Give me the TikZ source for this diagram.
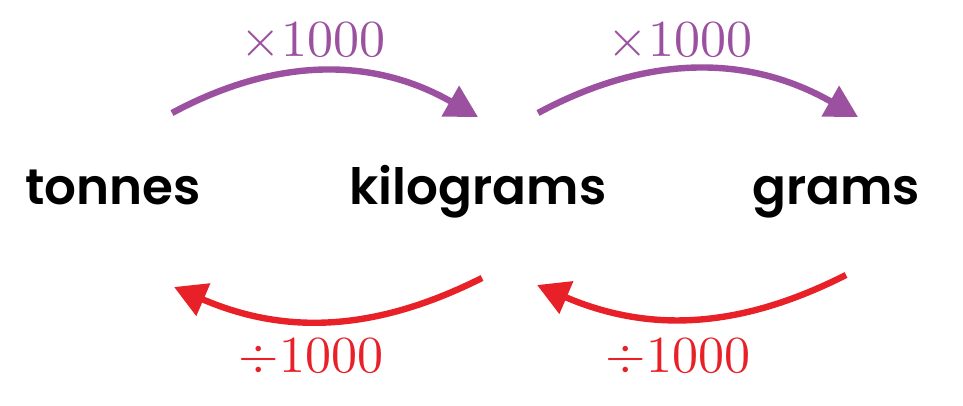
\documentclass[tikz,border=0pt]{standalone}
\usepackage{fontspec}
\usepackage{unicode-math}
\newfontfamily\unitfont{Poppins SemiBold}
\usetikzlibrary{arrows.meta, positioning}
\definecolor{mulpurple}{RGB}{155,80,160}
\definecolor{divred}{RGB}{232,32,40}
\tikzset{
  unit/.style={font=\unitfont\fontsize{25}{28}\selectfont, inner sep=0pt, anchor=base},
  factor/.style={font=\fontsize{26}{30}\selectfont, inner sep=0pt},
  mularrow/.style={line width=3.2pt, mulpurple, -{Triangle[length=16pt, width=17pt]}},
  divarrow/.style={line width=3.2pt, divred, -{Triangle[length=16pt, width=17pt]}}
}

\begin{document}
\begin{tikzpicture}[x=0.5pt, y=-0.5pt]

  \useasboundingbox (0,0) rectangle (963,406);

  \node (tonnes) [unit] at (113,205) {tonnes};
  \node (kilograms) [unit] at (478,205) {kilograms};
  \node (grams) [unit] at (836,205) {grams};

  \coordinate (mulA1) at (172,113);
  \coordinate (mulA2) at (478,117);
  \coordinate (mulB1) at (538,113);
  \coordinate (mulB2) at (858,117);
  \coordinate (divA1) at (482,278);
  \coordinate (divA2) at (174,287);
  \coordinate (divB1) at (846,275);
  \coordinate (divB2) at (537,285);

  \draw [mularrow] (mulA1) to[bend left=29] (mulA2);
  \draw [mularrow] (mulB1) to[bend left=29] (mulB2);
  \draw [divarrow] (divA1) to[bend left=25] (divA2);
  \draw [divarrow] (divB1) to[bend left=25] (divB2);

  \node (mulA) [factor, text=mulpurple] at (313,40) {$\times1000$};
  \node (mulB) [factor, text=mulpurple] at (680,40) {$\times1000$};
  \node (divA) [factor, text=divred] at (311,356) {$\div1000$};
  \node (divB) [factor, text=divred] at (678,356) {$\div1000$};

\end{tikzpicture}
\end{document}
